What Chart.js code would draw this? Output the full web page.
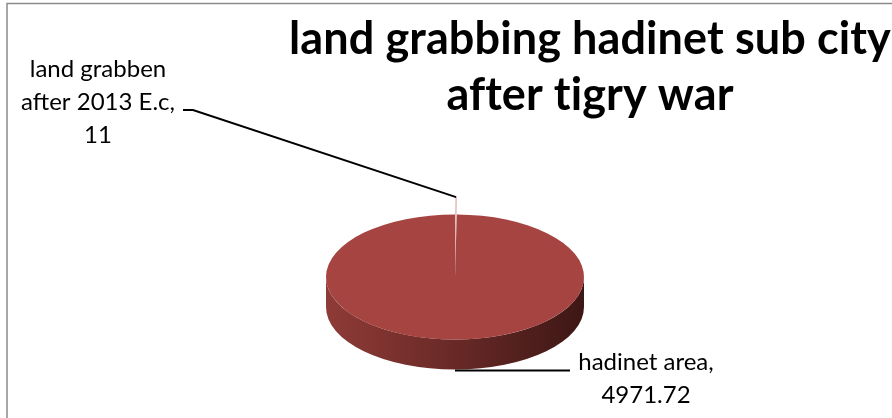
<!DOCTYPE html>
<html lang="en">
<head>
  <meta charset="UTF-8">
  <title>land grabbing hadinet sub city after tigry war</title>
  <style>
    body {
      margin: 0;
      background-color: white;
    }
    #wrap {
      width: 892px;
      height: 418px;
    }
  </style>
  <script src="https://cdn.jsdelivr.net/npm/chart.js"></script>
</head>
<body>
  <div id="wrap">
    <canvas id="landChart" width="892" height="418"></canvas>
  </div>

  <script>
    // data
    const categories = ['land grabben after 2013 E.c', 'hadinet area'];
    const areaValues = [11, 4971.72];
    const labelLines = [
      ['land grabben', 'after 2013 E.c,', '11'],
      ['hadinet area,', '4971.72']
    ];
    const titleLines = ['land grabbing hadinet sub city', 'after tigry war'];

    const sliceColors = ['#dcaaa8', '#a54440'];
    const tilt = 0.485;  // how much the round face is squashed
    const depth = 30;    // thickness of the pie side
    const labelFont = '24px Lato';
    const titleFont = 'bold 45px Lato';

    // where the label text sits (centre x, first baseline) and the leader elbow
    const labelSpots = [
      { x: 98, y: 77, elbowX: 193, elbowY: 110, endX: 183 },
      { x: 646, y: 370, endX: 570 }
    ];

    const frame = {
      id: 'frame',
      beforeDraw(chart) {
        const ctx = chart.ctx;
        ctx.save();
        ctx.strokeStyle = '#8a8a8a';
        ctx.lineWidth = 1.5;
        ctx.strokeRect(7, 3.5, 1000, 1000);
        ctx.restore();
      }
    };

    // side wall + squashed face, so the pie reads like the 3d one
    const pie3d = {
      id: 'pie3d',
      beforeDatasetsDraw(chart) {
        const ctx = chart.ctx;
        const arc = chart.getDatasetMeta(0).data[1];
        const cx = arc.x, cy = arc.y;
        const rx = arc.outerRadius, ry = rx * tilt;

        const grad = ctx.createLinearGradient(cx - rx, 0, cx + rx, 0);
        grad.addColorStop(0, '#8f3b37');
        grad.addColorStop(0.45, '#6c2b28');
        grad.addColorStop(1, '#3d1715');

        ctx.save();
        ctx.beginPath();
        ctx.ellipse(cx, cy, rx, ry, 0, 0, Math.PI);
        ctx.lineTo(cx - rx, cy + depth);
        ctx.ellipse(cx, cy + depth, rx, ry, 0, Math.PI, 0, true);
        ctx.closePath();
        ctx.fillStyle = grad;
        ctx.fill();
        ctx.restore();

        ctx.save();
        ctx.translate(0, cy);
        ctx.scale(1, tilt);
        ctx.translate(0, -cy);
      },
      afterDatasetsDraw(chart) {
        chart.ctx.restore();
      }
    };

    const sliceLabels = {
      id: 'sliceLabels',
      afterDraw(chart) {
        const ctx = chart.ctx;
        const meta = chart.getDatasetMeta(0);
        const main = meta.data[1];
        const cx = main.x, cy = main.y, r = main.outerRadius;

        // rim point of the pulled-out small slice
        const small = meta.data[0];
        const mid = (small.startAngle + small.endAngle) / 2;
        const pull = (small.options.offset / 4) * (2 - Math.sin(Math.min(Math.PI, small.circumference)));
        const ax = cx + Math.cos(mid) * (r + pull);
        const ay = cy + Math.sin(mid) * (r + pull) * tilt;

        ctx.save();
        ctx.strokeStyle = '#000';
        ctx.lineWidth = 2;
        const s0 = labelSpots[0];
        ctx.beginPath();
        ctx.moveTo(ax, ay);
        ctx.lineTo(s0.elbowX, s0.elbowY);
        ctx.lineTo(s0.endX, s0.elbowY);
        ctx.stroke();

        // bottom of the side wall for the big slice
        const s1 = labelSpots[1];
        const by = cy + r * tilt + depth + 1;
        ctx.beginPath();
        ctx.moveTo(cx, by);
        ctx.lineTo(s1.endX, by);
        ctx.stroke();

        ctx.fillStyle = '#000';
        ctx.font = labelFont;
        ctx.textAlign = 'center';
        ctx.textBaseline = 'alphabetic';
        labelLines.forEach((lines, i) => {
          lines.forEach((t, j) => {
            ctx.fillText(t, labelSpots[i].x, labelSpots[i].y + j * 33);
          });
        });

        // tiny letter spacing keeps Lato from joining "ti" into a ligature
        ctx.font = titleFont;
        ctx.letterSpacing = '0.1px';
        titleLines.forEach((t, j) => {
          ctx.fillText(t, 590, 54 + j * 56);
        });
        ctx.restore();
      }
    };

    const ctx = document.getElementById('landChart').getContext('2d');
    const landChart = new Chart(ctx, {
      type: 'pie',
      data: {
        labels: categories,
        datasets: [{
          data: areaValues,
          backgroundColor: sliceColors,
          borderWidth: [1, 0],
          borderColor: sliceColors,
          offset: [72, 0],
          hoverOffset: 0
        }]
      },
      options: {
        responsive: false,
        animation: false,
        radius: 129,
        layout: {
          padding: { left: 326, right: 308, top: 148, bottom: 12 }
        },
        plugins: {
          legend: { display: false },
          tooltip: { enabled: false },
          title: { display: false }
        }
      },
      plugins: [frame, pie3d, sliceLabels]
    });
  </script>
</body>
</html>
